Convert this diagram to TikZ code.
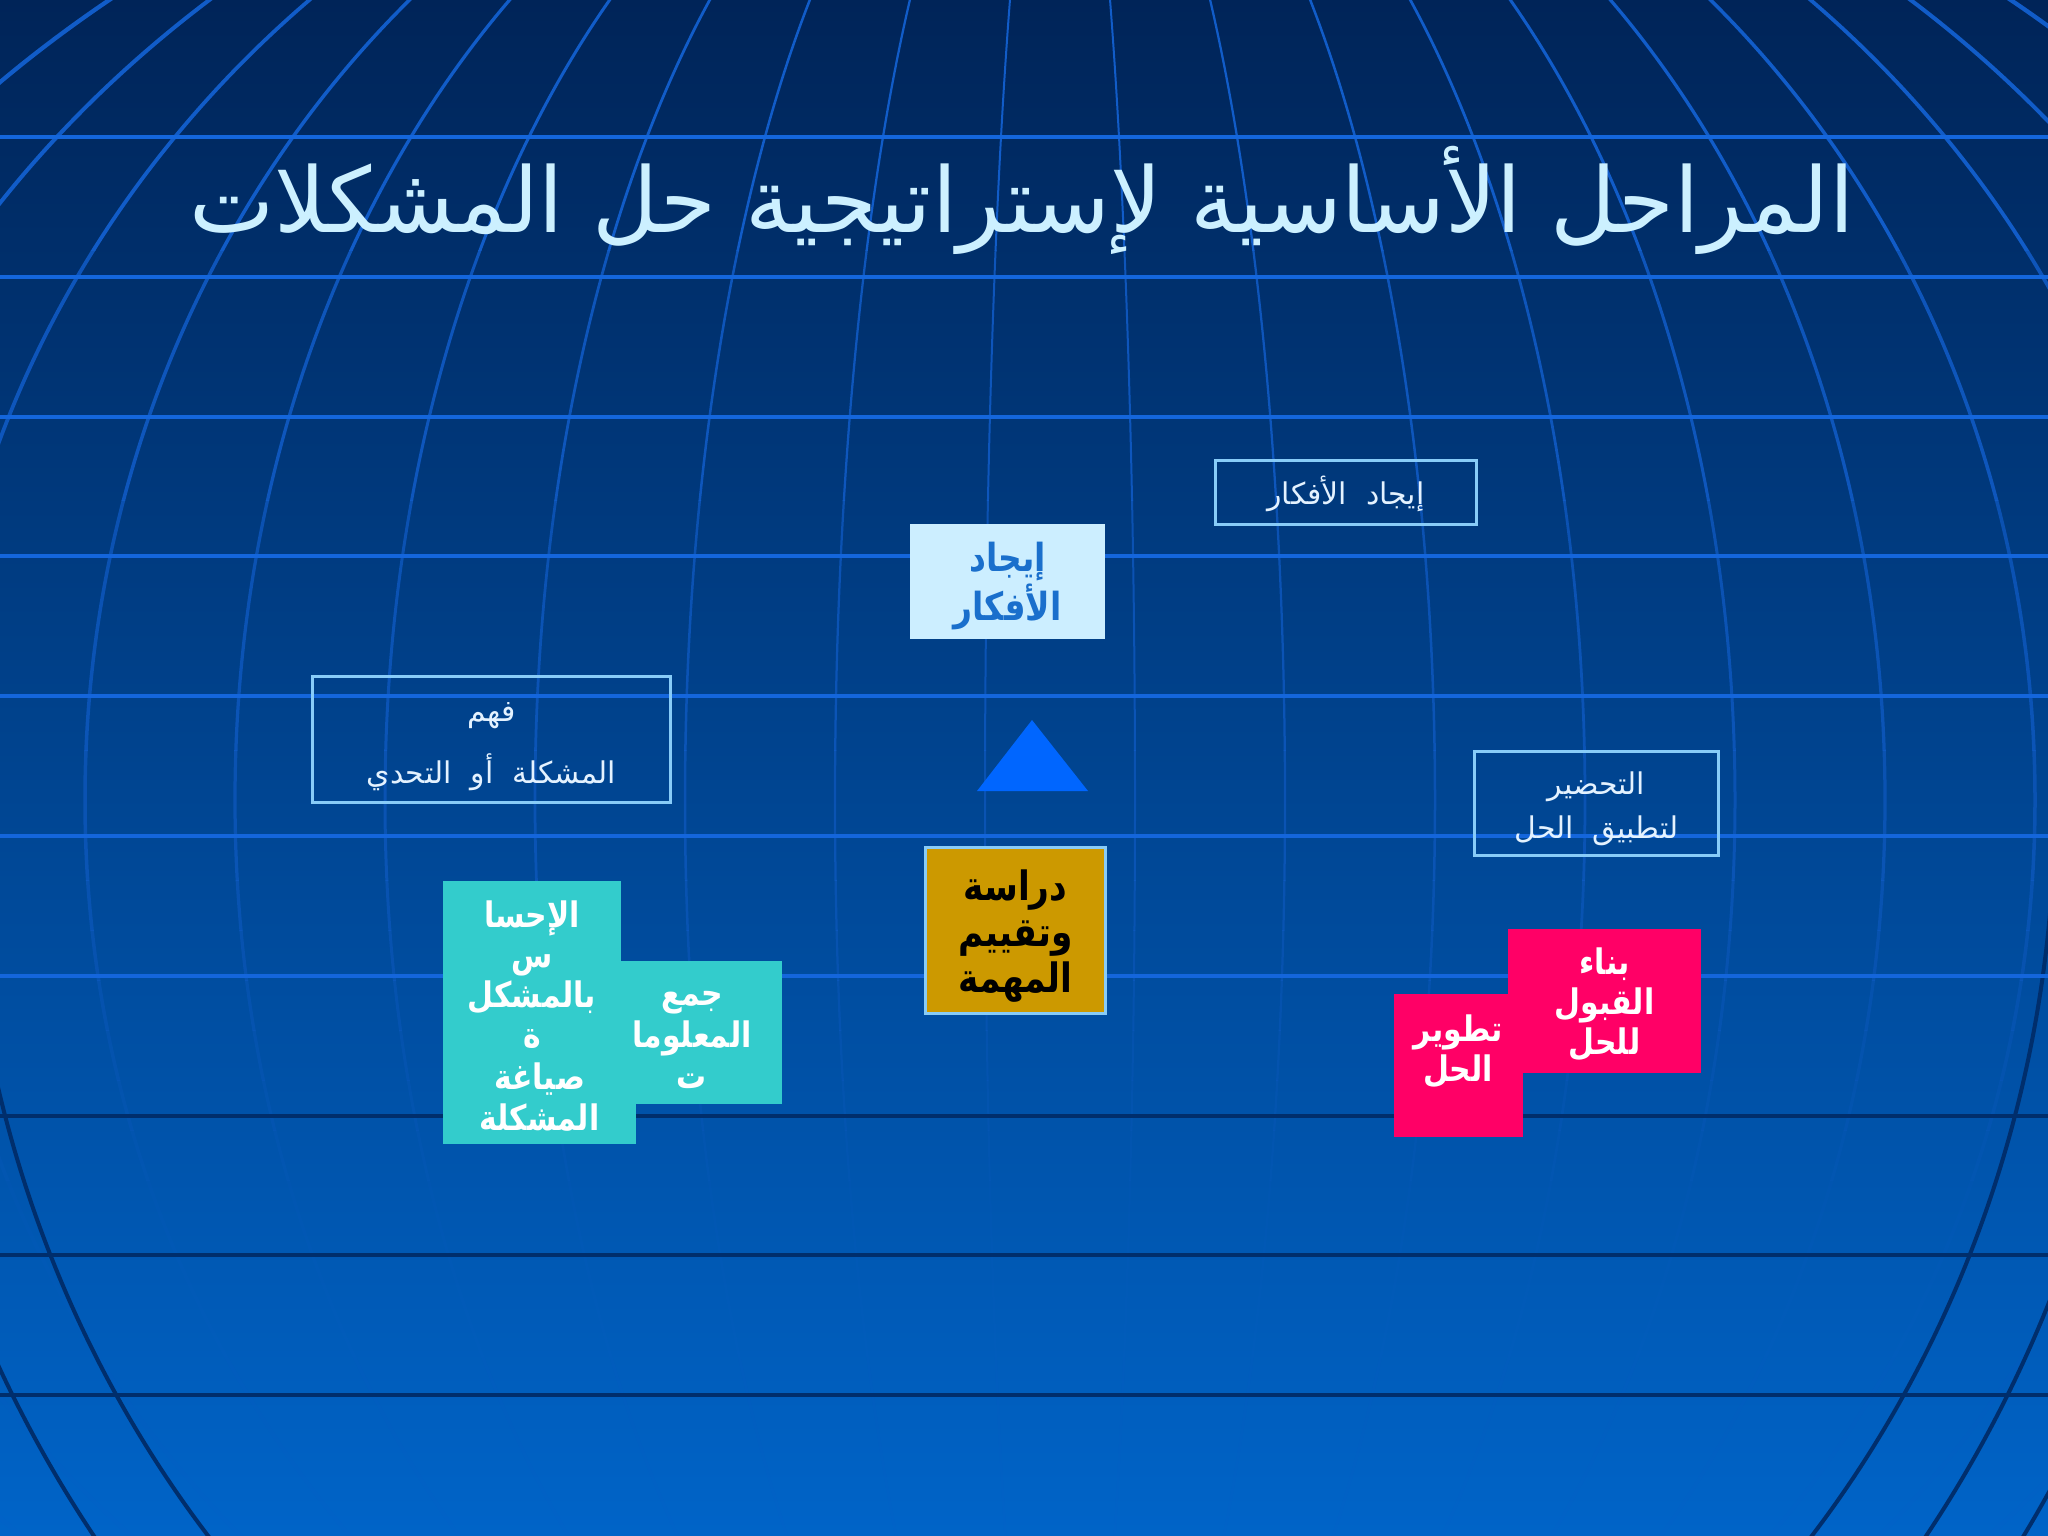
\documentclass[tikz,border=0pt]{standalone}
\usepackage{fontspec}
\newfontfamily\arabicfont[Script=Arabic]{DejaVu Sans}
\newfontfamily\arabicnarrow[Script=Arabic,FakeStretch=0.85]{DejaVu Sans}
\TeXXeTstate=1
\newcommand{\rl}[1]{\beginR#1\endR}

\definecolor{bgtop}{HTML}{002458}
\definecolor{bgmid}{HTML}{004A96}
\definecolor{bgbot}{HTML}{0064C8}
\definecolor{gridblue}{HTML}{1466DC}
\definecolor{rimblue}{HTML}{002E6C}
\definecolor{titlecol}{HTML}{CCF0FF}
\definecolor{boxline}{HTML}{88CCF8}
\definecolor{boxtext}{HTML}{E4F2FF}
\definecolor{lightfill}{HTML}{CCEEFF}
\definecolor{ideablue}{HTML}{1A6FCC}
\definecolor{arrowblue}{HTML}{0066FF}
\definecolor{goldfill}{HTML}{CC9900}
\definecolor{tealfill}{HTML}{33CCCC}
\definecolor{pinkfill}{HTML}{FF0066}

\tikzset{
  gridline/.style = {color=gridblue, line width=0.4mm},
  meridian/.style = {color=gridblue!85!bgtop},
  rimline/.style  = {color=rimblue, line width=0.4mm},
  outlinebox/.style = {draw=boxline, line width=0.3mm, inner sep=0pt},
  outlinetext/.style = {text=boxtext, align=center, inner sep=0pt,
    font=\arabicfont\fontsize{8.5}{17.5}\selectfont},
  boldtext/.style = {align=center, inner sep=0pt, font=\arabicnarrow\bfseries\fontsize{10}{11.4}\selectfont},
  tealbox/.style = {fill=tealfill, inner sep=0pt},
  pinkbox/.style = {fill=pinkfill, inner sep=0pt}
}

\begin{document}
\begin{tikzpicture}[x=0.01cm, y=-0.01cm]
  % background
  \shade[top color=bgtop, middle color=bgmid, bottom color=bgbot] (0,0) rectangle (2048,1536);
  \useasboundingbox (0,0) rectangle (2048,1536);

  % meridians of the globe, fading out towards the bottom
  \foreach \ya/\yb/\op in {0/250/1, 250/500/0.85, 500/750/0.7, 750/880/0.6, 880/930/0.5,
                           930/980/0.42, 980/1030/0.34, 1030/1080/0.26, 1080/1130/0.2,
                           1130/1180/0.15, 1180/1536/0.1} {
    \begin{scope}
      \clip (0,\ya) rectangle (2048,\yb);
      \foreach \k in {0,...,9} {
        \pgfmathsetmacro\lw{0.2+0.025*\k}
        \draw[meridian, line width=\lw mm, opacity=\op] (1060,800) ellipse [x radius={75+150*\k}, y radius=1074];
      }
    \end{scope}
  }
  % dark rim lines at the bottom
  \begin{scope}
    \clip (0,900) rectangle (2048,1536);
    \foreach \a in {1045,1135,1215}
      \draw[rimline] (1010,800) ellipse [x radius=\a, y radius={1.098*\a}];
  \end{scope}
  % parallels
  \foreach \i in {0,...,6}
    \draw[gridline] (0,{137+139.8*\i}) -- (2048,{137+139.8*\i});
  \foreach \i in {7,8,9}
    \draw[rimline] (0,{137+139.8*\i}) -- (2048,{137+139.8*\i});

  % title
  \node[text=titlecol, font=\arabicfont\fontsize{25.7}{30}\selectfont] (title) at (1022,200)
    {\rl{المراحل الأساسية لإستراتيجية حل المشكلات}};

  % outlined stages
  \node[outlinebox, minimum width=35.7mm, minimum height=12.5mm] (understand) at (491.5,739.5) {};
  \node[outlinetext] (understandtext) at (491.5,746.5) {\rl{فهم}\\\rl{المشكلة~~أو~~التحدي}};
  \node[outlinebox, minimum width=26mm, minimum height=6.3mm] (ideas) at (1346,492.5) {};
  \node[outlinetext] (ideastext) at (1346,494) {\rl{إيجاد~~الأفكار}};
  \node[outlinebox, minimum width=24.3mm, minimum height=10.3mm] (prepare) at (1596.5,803.5) {};
  \node[outlinetext, font=\arabicfont\fontsize{8.5}{12.5}\selectfont] (preparetext) at (1596.5,809)
    {\rl{التحضير}\\\rl{لتطبيق~~الحل}};

  % filled stages
  \node[fill=lightfill, minimum width=19.5mm, minimum height=11.5mm] (ideasbox) at (1007.5,581.5) {};
  \node[boldtext, text=ideablue, font=\arabicnarrow\bfseries\fontsize{11}{11.2}\selectfont]
    (ideasboxtext) at (1007.5,586) {\rl{إيجاد}\\\rl{الأفكار}};
  \fill[arrowblue] (977,791) -- (1032,720) -- (1088,791) -- cycle;
  \node[fill=goldfill, draw=boxline, line width=0.3mm, minimum width=17.9mm, minimum height=16.5mm]
    (study) at (1015.5,930.5) {};
  \node[boldtext, text=black, font=\arabicnarrow\bfseries\fontsize{11.5}{13}\selectfont]
    (studytext) at (1015.5,936) {\rl{دراسة}\\\rl{وتقييم}\\\rl{المهمة}};

  \node[tealbox, minimum width=17.8mm, minimum height=19.2mm] (sense) at (532,977) {};
  \node[tealbox, minimum width=19.3mm, minimum height=9.4mm] (define) at (539.5,1097) {};
  \node[tealbox, minimum width=18mm, minimum height=14.3mm] (gather) at (692,1032.5) {};
  \node[boldtext, text=white] (sensetext) at (532,975) {\rl{الإحسا}\\\rl{س}\\\rl{بالمشكل}\\\rl{ة}};
  \node[boldtext, text=white] (definetext) at (539.5,1097) {\rl{صياغة}\\\rl{المشكلة}};
  \node[boldtext, text=white, font=\arabicnarrow\bfseries\fontsize{10}{11.8}\selectfont]
    (gathertext) at (692,1040) {\rl{جمع}\\\rl{المعلوما}\\\rl{ت}};

  \node[pinkbox, minimum width=12.9mm, minimum height=14.3mm] (develop) at (1458.5,1065.5) {};
  \node[pinkbox, minimum width=19.3mm, minimum height=14.4mm] (accept) at (1604.5,1001) {};
  \node[boldtext, text=white] (accepttext) at (1604.5,1004) {\rl{بناء}\\\rl{القبول}\\\rl{للحل}};
  \node[boldtext, text=white] (developtext) at (1458,1051) {\rl{تطوير}\\\rl{الحل}};
\end{tikzpicture}
\end{document}
